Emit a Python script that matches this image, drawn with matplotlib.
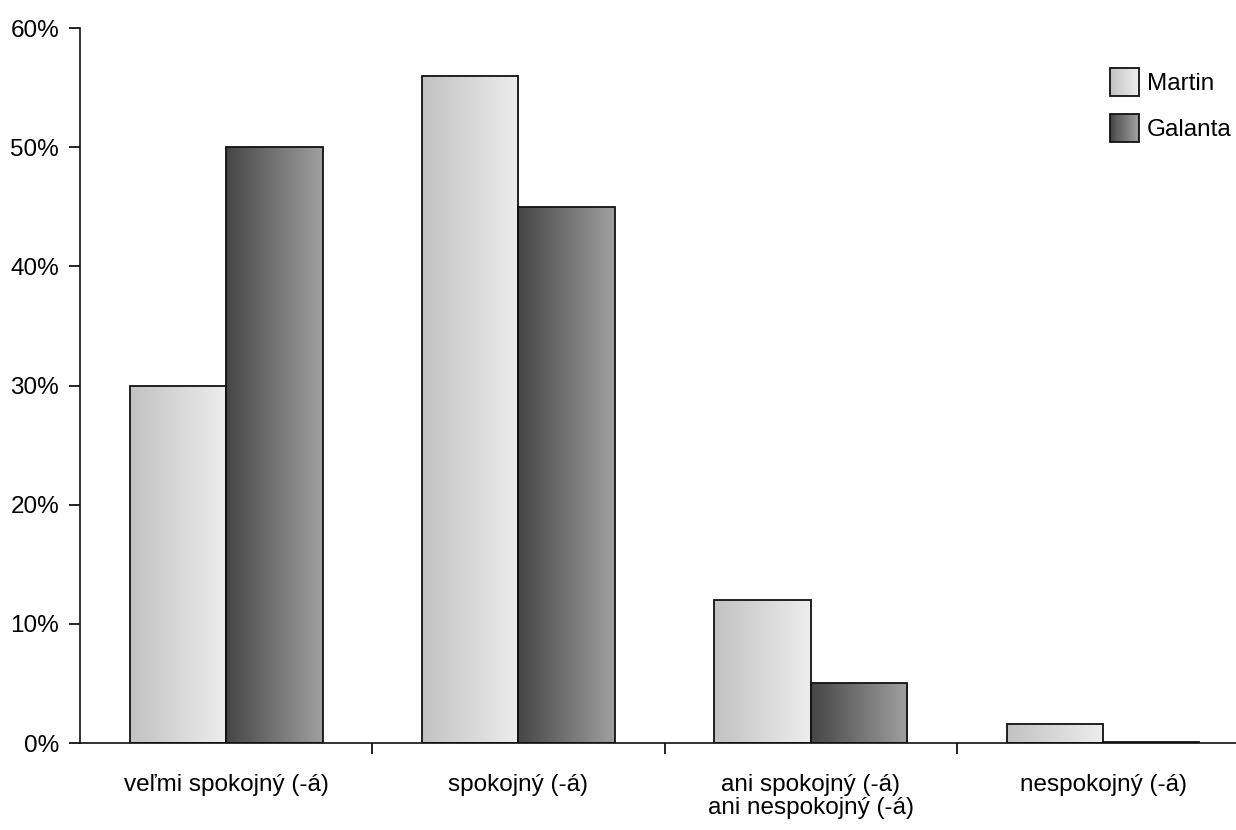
import matplotlib.pyplot as plt
import numpy as np
from matplotlib.colors import LinearSegmentedColormap
from matplotlib.patches import Rectangle
from matplotlib.legend_handler import HandlerBase

plt.rcParams['font.family'] = ['Liberation Sans', 'DejaVu Sans']

# Data
kategorie = ['veľmi spokojný (-á)', 'spokojný (-á)',
             'ani spokojný (-á)\nani nespokojný (-á)', 'nespokojný (-á)']
martin = [30, 56, 12, 1.6]
galanta = [50, 45, 5, 0.1]
serie = ['Martin', 'Galanta']

# gradient farby (zľava doprava)
grad_martin = ('#c2c2c2', '#ededed')
grad_galanta = ('#464646', '#a0a0a0')

FS = 17.5


def gradient_bars(ax, x, h, w, farby):
    cmap = LinearSegmentedColormap.from_list('g', farby)
    bars = ax.bar(x, h, width=w, align='edge', facecolor='none',
                  edgecolor='#111111', linewidth=1.3, zorder=3)
    grad = np.linspace(0, 1, 256).reshape(1, -1)
    for b in bars:
        x0, y0 = b.get_x(), b.get_y()
        im = ax.imshow(grad, cmap=cmap, aspect='auto', zorder=2,
                       extent=[x0, x0 + b.get_width(), y0, y0 + b.get_height()])
        im.set_clip_path(b)
    return bars


class HandlerGradient(HandlerBase):
    def __init__(self, farby):
        super().__init__()
        self.farby = farby

    def create_artists(self, legend, orig_handle, xdescent, ydescent,
                       width, height, fontsize, trans):
        cmap = LinearSegmentedColormap.from_list('g', self.farby)
        n = 30
        artists = []
        for i in range(n):
            artists.append(Rectangle((-xdescent + width * i / n, -ydescent),
                                     width / n * 1.05, height,
                                     facecolor=cmap(i / (n - 1)),
                                     edgecolor='none', transform=trans))
        artists.append(Rectangle((-xdescent, -ydescent), width, height,
                                 facecolor='none', edgecolor='#111111',
                                 linewidth=1.3, transform=trans))
        return artists


fig = plt.figure(figsize=(12.36, 8.3), dpi=100)
ax = fig.add_axes([0.0647, 0.1048, 0.9353, 0.8614])

x = np.arange(len(kategorie))
w = 0.33
gradient_bars(ax, x - w, martin, w, grad_martin)
gradient_bars(ax, x, galanta, w, grad_galanta)

ax.set_xlim(-0.5, 3.455)
ax.set_ylim(0, 60)

ax.set_yticks(np.arange(0, 61, 10))
ax.set_yticklabels([f'{v}%' for v in range(0, 61, 10)])
ax.tick_params(axis='y', direction='out', length=8, width=1.2, labelsize=FS, pad=7)

ax.set_xticks(x)
ax.set_xticklabels(kategorie, linespacing=1.1)
ax.tick_params(axis='x', which='major', length=0, labelsize=FS, pad=22)
ax.set_xticks(x[:-1] + 0.5, minor=True)
ax.tick_params(axis='x', which='minor', direction='out', length=8, width=1.2)

for s in ['top', 'right']:
    ax.spines[s].set_visible(False)
for s in ['left', 'bottom']:
    ax.spines[s].set_linewidth(1.2)
    ax.spines[s].set_color('#111111')

h1 = Rectangle((0, 0), 1, 1)
h2 = Rectangle((0, 0), 1, 1)
ax.legend([h1, h2], serie, loc='upper right', bbox_to_anchor=(1.013, 0.972),
          frameon=False, fontsize=FS, handlelength=1.2, handleheight=1.4,
          handletextpad=0.33, labelspacing=0.75, borderpad=0.3,
          handler_map={h1: HandlerGradient(grad_martin),
                       h2: HandlerGradient(grad_galanta)})

plt.savefig('out.png', dpi=100)
